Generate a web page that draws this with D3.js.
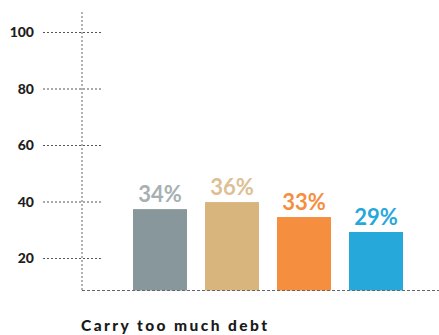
<!DOCTYPE html>
<html>
<head>
<meta charset="utf-8">
<script src="https://cdn.jsdelivr.net/npm/d3@7"></script>
<style>
  body { margin: 0; background: #fff; }
  svg { display: block; }
</style>
</head>
<body>
<div id="output"></div>
<script>
// bar heights as drawn, labels as printed on the chart
var categories = ['A', 'B', 'C', 'D'];
var barValues = [37.3, 39.8, 34.5, 29.2];
var barLabels = ['34%', '36%', '33%', '29%'];
var yTicks = [20, 40, 60, 80, 100];
var title = 'Carry too much debt';

var barColors = ['#88979b', '#d9b57e', '#f68e3f', '#27a8da'];
var labelColors = ['#a6b0b3', '#dcc093', '#f68e3f', '#27a8da'];

function renderGraph(){
  var width = 439;
  var height = 335;
  var axisX = 82;
  var baseY = 290.5;

  var svg = d3.select('#output')
  .append('svg')
  .attr('width', width)
  .attr('height', height);

  // 0 would sit below the baseline; axis floor is ~8.3
  var yScale = d3.scaleLinear()
  .domain([0, 100])
  .range([314.5, 32]);

  var xScale = d3.scaleBand()
  .domain(categories)
  .range([124, 412])
  .paddingInner(0.25)
  .paddingOuter(0.125);

  // vertical dotted axis
  svg.append('line')
  .attr('x1', axisX).attr('x2', axisX)
  .attr('y1', 12).attr('y2', baseY)
  .attr('stroke', '#666')
  .attr('stroke-width', 1)
  .attr('stroke-dasharray', '2,2');

  // tick grid stubs + labels
  var yAxis = d3.axisLeft(yScale)
  .tickValues(yTicks)
  .tickSize(0)
  .tickPadding(0);

  var gAxis = svg.append('g')
  .call(yAxis);
  gAxis.select('.domain').remove();
  gAxis.selectAll('.tick text')
  .attr('x', 34)
  .attr('dy', '0.35em')
  .attr('text-anchor', 'end')
  .attr('fill', '#1e1e1e')
  .style('font-family', 'Lato, sans-serif')
  .style('font-weight', '900')
  .style('font-size', '14px');
  gAxis.selectAll('.tick').append('line')
  .attr('x1', 43).attr('x2', 101)
  .attr('y1', 0).attr('y2', 0)
  .attr('stroke', '#555')
  .attr('stroke-width', 1)
  .attr('stroke-dasharray', '2,2');

  // bars
  svg.selectAll('rect.bar')
  .data(barValues)
  .enter().append('rect')
  .attr('class', 'bar')
  .attr('x', (d, i) => xScale(categories[i]))
  .attr('y', (d) => yScale(d))
  .attr('width', xScale.bandwidth())
  .attr('height', (d) => baseY - yScale(d))
  .attr('fill', (d, i) => barColors[i]);

  // value labels
  svg.selectAll('text.val')
  .data(barValues)
  .enter().append('text')
  .attr('class', 'val')
  .attr('x', (d, i) => xScale(categories[i]) + xScale.bandwidth() / 2)
  .attr('y', (d) => yScale(d) - 7)
  .attr('text-anchor', 'middle')
  .attr('fill', (d, i) => labelColors[i])
  .style('font-family', 'Lato, sans-serif')
  .style('font-weight', 'bold')
  .style('font-size', '22px')
  .text((d, i) => barLabels[i]);

  // baseline
  svg.append('line')
  .attr('x1', axisX).attr('x2', width)
  .attr('y1', baseY).attr('y2', baseY)
  .attr('stroke', '#666')
  .attr('stroke-width', 1)
  .attr('stroke-dasharray', '3,2');

  // title is widely tracked in the original: spread the glyphs with dx
  var titleText = svg.append('text')
  .attr('x', 81)
  .attr('y', 330.5)
  .attr('fill', '#1a1a1a')
  .style('font-family', 'Lato, sans-serif')
  .style('font-weight', '900')
  .style('font-size', '15.5px')
  .text(title);
  var natural = titleText.node().getComputedTextLength();
  var gap = Math.max(0, (186 - natural) / (title.length - 1));
  titleText.text(null);
  titleText.selectAll('tspan')
  .data(title.split(''))
  .enter().append('tspan')
  .attr('dx', (d, i) => i === 0 ? 0 : gap)
  .text((d) => d);
}

document.addEventListener('DOMContentLoaded', renderGraph);
</script>
</body>
</html>
